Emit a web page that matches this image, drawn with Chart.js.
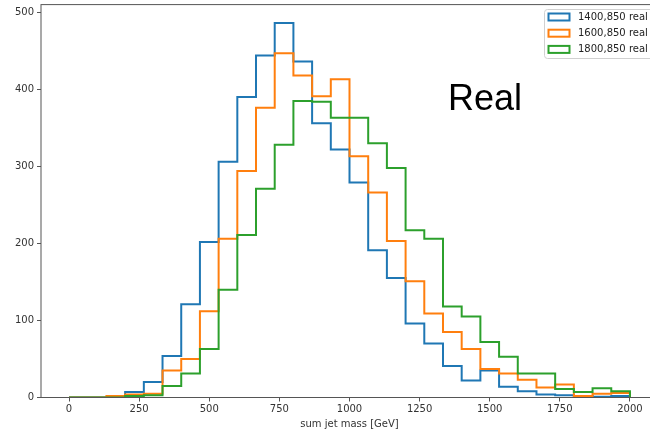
<!DOCTYPE html>
<html>
<head>
<meta charset="utf-8">
<script src="https://cdn.jsdelivr.net/npm/chart.js@4.4.1/dist/chart.umd.min.js"></script>
<style>
  html, body { margin: 0; padding: 0; background: #fff; overflow: hidden; }
  #wrap { width: 670px; height: 430px; }
</style>
</head>
<body>
<div id="wrap"><canvas id="hist" width="670" height="430"></canvas></div>
<script>
// 30 bins from 0 to 2000 GeV
const binLow = 0;
const binHigh = 2000;
const nBins = 30;

const labels = ['1400,850 real', '1600,850 real', '1800,850 real'];
const colors = ['#1f77b4', '#ff7f0e', '#2ca02c'];

const counts1400 = [0, 0, 0, 7, 20, 54, 121, 202, 306, 390, 444, 486, 436, 356, 322,
                    279, 191, 155, 96, 70, 41, 22, 35, 14, 8, 4, 3, 2, 1, 2];
const counts1600 = [0, 0, 2, 4, 5, 35, 50, 112, 206, 294, 376, 447, 418, 391, 413,
                    313, 266, 203, 151, 109, 85, 63, 37, 31, 23, 13, 17, 2, 5, 6];
const counts1800 = [0, 0, 0, 2, 3, 15, 31, 63, 140, 211, 271, 328, 385, 384, 363,
                    363, 330, 298, 217, 206, 118, 105, 72, 53, 31, 31, 11, 7, 12, 8];

const xTicks = [0, 250, 500, 750, 1000, 1250, 1500, 1750, 2000];
const yTicks = [0, 100, 200, 300, 400, 500];

const binWidth = (binHigh - binLow) / nBins;

// outline of a step histogram: up from 0 at the first edge, down to 0 at the last
function stepPoints(counts) {
  const pts = [{ x: binLow, y: 0 }];
  counts.forEach((c, i) => pts.push({ x: binLow + i * binWidth, y: c }));
  pts.push({ x: binHigh, y: 0 });
  return pts;
}

const allCounts = [counts1400, counts1600, counts1800];
const datasets = allCounts.map((c, i) => ({
  label: labels[i],
  data: stepPoints(c),
  borderColor: colors[i],
  backgroundColor: '#ffffff',
  borderWidth: 2,
  stepped: 'before',
  pointRadius: 0,
  fill: false,
  borderJoinStyle: 'miter',
  order: allCounts.length - i
}));

const tickFont = { family: 'DejaVu Sans', size: 10 };
const axisColor = '#555';

// axes frame, legend box and the "Real" note
const decorations = {
  id: 'decorations',
  afterDatasetsDraw(chart) {
    const { ctx, chartArea: a } = chart;
    ctx.save();
    ctx.strokeStyle = axisColor;
    ctx.lineWidth = 1;
    ctx.strokeRect(a.left, a.top, a.right - a.left, a.bottom - a.top);

    // legend
    const lx = 544.5, ly = 9.5, lw = 130, lh = 49;
    ctx.fillStyle = 'rgba(255,255,255,0.85)';
    ctx.strokeStyle = '#d0d0d0';
    ctx.beginPath();
    ctx.roundRect(lx, ly, lw, lh, 3);
    ctx.fill();
    ctx.stroke();
    ctx.font = '10px "DejaVu Sans"';
    ctx.textBaseline = 'middle';
    chart.data.datasets.forEach((ds, i) => {
      const cy = 17 + i * 16.2;
      ctx.fillStyle = '#fff';
      ctx.fillRect(548.5, cy - 3.5, 21, 7);
      ctx.strokeStyle = ds.borderColor;
      ctx.lineWidth = 2;
      ctx.strokeRect(548.5, cy - 3.5, 21, 7);
      ctx.fillStyle = '#222';
      ctx.fillText(ds.label, 578, cy + 0.5);
    });

    ctx.fillStyle = '#000';
    ctx.font = '36px "Liberation Sans", Arial, sans-serif';
    ctx.textBaseline = 'alphabetic';
    ctx.fillText('Real', 448, 109.5);
    ctx.restore();
  }
};

new Chart(document.getElementById('hist'), {
  type: 'line',
  data: { datasets: datasets },
  options: {
    responsive: false,
    animation: false,
    layout: { padding: { left: 0, top: 4.6, right: 12, bottom: 0 } },
    plugins: {
      legend: { display: false },
      tooltip: { enabled: false }
    },
    scales: {
      x: {
        type: 'linear',
        min: -100,
        max: 2100,
        border: { display: false },
        grid: {
          drawOnChartArea: false,
          drawTicks: true,
          tickLength: 4,
          tickColor: axisColor
        },
        ticks: {
          font: tickFont,
          color: '#333',
          padding: 2,
          maxRotation: 0,
          callback: (v) => String(v)
        },
        afterBuildTicks: (scale) => { scale.ticks = xTicks.map(v => ({ value: v })); },
        afterFit: (scale) => {
          scale.height = 32.5;
          scale.paddingLeft = 0;
          scale.paddingRight = 0;
        },
        title: {
          display: true,
          text: 'sum jet mass [GeV]',
          font: { family: 'DejaVu Sans', size: 10, lineHeight: 1.2 },
          color: '#333',
          padding: { top: 0, bottom: 0 }
        }
      },
      y: {
        min: 0,
        max: 510,
        border: { display: false },
        grid: {
          drawOnChartArea: false,
          drawTicks: true,
          tickLength: 4,
          tickColor: axisColor
        },
        ticks: { font: tickFont, color: '#333', padding: 3, callback: (v) => String(v) },
        afterBuildTicks: (scale) => { scale.ticks = yTicks.map(v => ({ value: v })); },
        afterFit: (scale) => {
          scale.width = 41;
          scale.paddingTop = 0;
          scale.paddingBottom = 0;
        }
      }
    }
  },
  plugins: [decorations]
});
</script>
</body>
</html>
